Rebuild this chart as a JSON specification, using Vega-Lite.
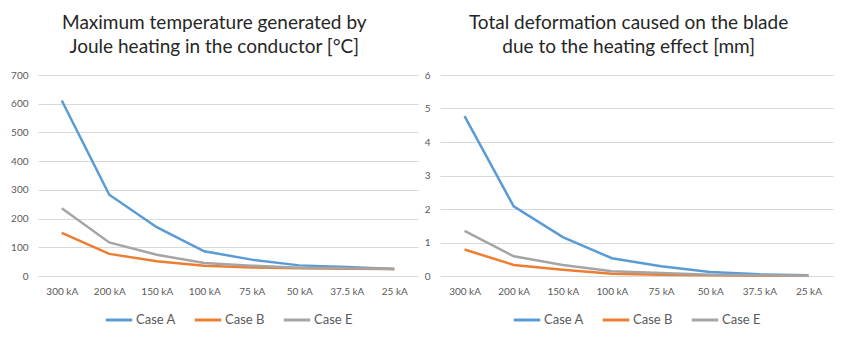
{
  "$schema": "https://vega.github.io/schema/vega-lite/v6.json",
  "background": "white",
  "padding": {"left": 10, "top": 14, "right": 5, "bottom": 5},
  "datasets": {
    "temp": [
      {"current": "300 kA", "case": "Case A", "value": 611},
      {"current": "200 kA", "case": "Case A", "value": 283},
      {"current": "150 kA", "case": "Case A", "value": 170},
      {"current": "100 kA", "case": "Case A", "value": 86},
      {"current": "75 kA", "case": "Case A", "value": 57},
      {"current": "50 kA", "case": "Case A", "value": 37},
      {"current": "37.5 kA", "case": "Case A", "value": 31},
      {"current": "25 kA", "case": "Case A", "value": 24},
      {"current": "300 kA", "case": "Case B", "value": 150},
      {"current": "200 kA", "case": "Case B", "value": 77},
      {"current": "150 kA", "case": "Case B", "value": 51},
      {"current": "100 kA", "case": "Case B", "value": 36},
      {"current": "75 kA", "case": "Case B", "value": 30},
      {"current": "50 kA", "case": "Case B", "value": 27},
      {"current": "37.5 kA", "case": "Case B", "value": 25},
      {"current": "25 kA", "case": "Case B", "value": 24},
      {"current": "300 kA", "case": "Case E", "value": 236},
      {"current": "200 kA", "case": "Case E", "value": 117},
      {"current": "150 kA", "case": "Case E", "value": 74},
      {"current": "100 kA", "case": "Case E", "value": 45},
      {"current": "75 kA", "case": "Case E", "value": 36},
      {"current": "50 kA", "case": "Case E", "value": 29},
      {"current": "37.5 kA", "case": "Case E", "value": 27},
      {"current": "25 kA", "case": "Case E", "value": 24}
    ],
    "deform": [
      {"current": "300 kA", "case": "Case A", "value": 4.77},
      {"current": "200 kA", "case": "Case A", "value": 2.08},
      {"current": "150 kA", "case": "Case A", "value": 1.16},
      {"current": "100 kA", "case": "Case A", "value": 0.53},
      {"current": "75 kA", "case": "Case A", "value": 0.29},
      {"current": "50 kA", "case": "Case A", "value": 0.12},
      {"current": "37.5 kA", "case": "Case A", "value": 0.05},
      {"current": "25 kA", "case": "Case A", "value": 0.02},
      {"current": "300 kA", "case": "Case B", "value": 0.79},
      {"current": "200 kA", "case": "Case B", "value": 0.33},
      {"current": "150 kA", "case": "Case B", "value": 0.19},
      {"current": "100 kA", "case": "Case B", "value": 0.07},
      {"current": "75 kA", "case": "Case B", "value": 0.04},
      {"current": "50 kA", "case": "Case B", "value": 0.02},
      {"current": "37.5 kA", "case": "Case B", "value": 0.01},
      {"current": "25 kA", "case": "Case B", "value": 0.01},
      {"current": "300 kA", "case": "Case E", "value": 1.35},
      {"current": "200 kA", "case": "Case E", "value": 0.59},
      {"current": "150 kA", "case": "Case E", "value": 0.33},
      {"current": "100 kA", "case": "Case E", "value": 0.14},
      {"current": "75 kA", "case": "Case E", "value": 0.09},
      {"current": "50 kA", "case": "Case E", "value": 0.04},
      {"current": "37.5 kA", "case": "Case E", "value": 0.02},
      {"current": "25 kA", "case": "Case E", "value": 0.01}
    ]
  },
  "config": {
    "font": "Lato",
    "view": {"stroke": null},
    "concat": {"spacing": 6},
    "title": {"fontSize": 19, "fontWeight": "normal", "color": "#262626", "anchor": "middle", "offset": 13, "lineHeight": 24, "frame": "bounds"},
    "axis": {"labelColor": "#595959", "labelFontSize": 10, "gridColor": "#D9D9D9", "domain": false, "ticks": false, "title": null},
    "legend": {"orient": "bottom", "direction": "horizontal", "labelFontSize": 13, "labelColor": "#595959", "symbolType": "stroke", "symbolSize": 700, "symbolStrokeWidth": 3, "title": null, "columnPadding": 12, "labelOffset": 2, "offset": 9, "layout": {"bottom": {"anchor": "middle"}}}
  },
  "resolve": {"scale": {"color": "independent"}, "legend": {"color": "independent"}},
  "hconcat": [
    {
      "data": {"name": "temp"},
      "title": {"text": ["Maximum temperature generated by", "Joule heating in the conductor [°C]"]},
      "width": 380,
      "height": 201,
      "mark": {"type": "line", "strokeWidth": 2.5},
      "encoding": {
        "x": {"field": "current", "type": "ordinal", "sort": null, "scale": {"type": "point", "padding": 0.5}, "axis": {"labelAngle": 0, "grid": false, "labelPadding": 10}},
        "y": {"field": "value", "type": "quantitative", "scale": {"domain": [0, 700]}, "axis": {"values": [0, 100, 200, 300, 400, 500, 600, 700], "labelPadding": 10}},
        "color": {"field": "case", "type": "nominal", "scale": {"domain": ["Case A", "Case B", "Case E"], "range": ["#5B9BD5", "#ED7D31", "#A5A5A5"]}}
      }
    },
    {
      "data": {"name": "deform"},
      "title": {"text": ["Total deformation caused on the blade", "due to the heating effect [mm]"]},
      "width": 393,
      "height": 201,
      "mark": {"type": "line", "strokeWidth": 2.5},
      "encoding": {
        "x": {"field": "current", "type": "ordinal", "sort": null, "scale": {"type": "point", "padding": 0.5}, "axis": {"labelAngle": 0, "grid": false, "labelPadding": 10}},
        "y": {"field": "value", "type": "quantitative", "scale": {"domain": [0, 6]}, "axis": {"values": [0, 1, 2, 3, 4, 5, 6], "labelPadding": 10}},
        "color": {"field": "case", "type": "nominal", "scale": {"domain": ["Case A", "Case B", "Case E"], "range": ["#5B9BD5", "#ED7D31", "#A5A5A5"]}}
      }
    }
  ]
}
